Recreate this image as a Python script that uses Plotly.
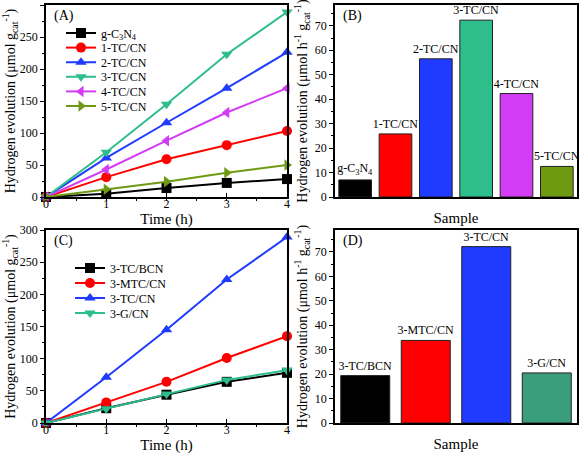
import plotly.graph_objects as go

# ---------------- data ----------------
time_h = [0, 1, 2, 3, 4]

a_names = ["g-C<sub>3</sub>N<sub>4</sub>", "1-TC/CN", "2-TC/CN", "3-TC/CN", "4-TC/CN", "5-TC/CN"]
a_gc3n4 = [0, 5, 14, 22, 28]
a_1tc = [0, 31, 59, 81, 103]
a_2tc = [0, 61, 116, 170, 226]
a_3tc = [0, 70, 145, 223, 289]
a_4tc = [0, 43, 88, 132, 170]
a_5tc = [0, 12, 24, 38, 50]

b_samples = ["g-C<sub>3</sub>N<sub>4</sub>", "1-TC/CN", "2-TC/CN", "3-TC/CN", "4-TC/CN", "5-TC/CN"]
b_rates = [7.0, 25.8, 56.5, 72.3, 42.3, 12.5]

c_names = ["3-TC/BCN", "3-MTC/CN", "3-TC/CN", "3-G/CN"]
c_tcbcn = [0, 23, 44, 64, 78]
c_mtc = [0, 32, 64, 101, 135]
c_tc = [0, 71, 145, 223, 289]
c_g = [0, 22, 45, 67, 82]

d_samples = ["3-TC/BCN", "3-MTC/CN", "3-TC/CN", "3-G/CN"]
d_rates = [19.4, 33.8, 72.2, 20.5]

# ---------------- styles ----------------
FONT = "Liberation Serif"
BLACK = "#000000"
RED = "#FF0000"
BLUE = "#1F3BFF"
GREEN = "#2DBE8C"
MAGENTA = "#D23CF5"
OLIVE = "#6E9A12"
GREEN_D = "#3A9E7C"

a_colors = [BLACK, RED, BLUE, GREEN, MAGENTA, OLIVE]
a_symbols = ["square", "circle", "triangle-up", "triangle-down", "triangle-left", "triangle-right"]
c_colors = [BLACK, RED, BLUE, GREEN]
c_symbols = ["square", "circle", "triangle-up", "triangle-down"]

W, H = 579, 456
fig = go.Figure()

legend_layouts = {}
legfont = dict(family=FONT, size=12, color="black")

# panel A lines, one legend per entry for tight spacing
A_LEG_X, A_LEG_Y0, A_LEG_DY = 61, 33, 14.6
for i, (name, ys, col, sym) in enumerate(zip(a_names, [a_gc3n4, a_1tc, a_2tc, a_3tc, a_4tc, a_5tc], a_colors, a_symbols)):
    lg = "legend" if i == 0 else f"legend{i + 1}"
    fig.add_trace(go.Scatter(x=time_h, y=ys, name=name, mode="lines+markers",
                             line=dict(color=col, width=2),
                             marker=dict(symbol=sym, size=10, color=col),
                             xaxis="x", yaxis="y", legend=lg, cliponaxis=False))
    legend_layouts[lg] = dict(x=A_LEG_X / W, y=1 - (A_LEG_Y0 + i * A_LEG_DY) / H, xanchor="left", yanchor="middle",
                              bgcolor="rgba(0,0,0,0)", font=legfont, itemwidth=30)

fig.add_trace(go.Bar(x=list(range(len(b_samples))), y=b_rates,
                     marker=dict(color=a_colors, line=dict(color="#222", width=1)),
                     text=b_samples, textposition="outside", constraintext="none",
                     textfont=dict(family=FONT, size=12, color="black"),
                     showlegend=False, xaxis="x2", yaxis="y2", cliponaxis=False))

C_LEG_X, C_LEG_Y0, C_LEG_DY = 70, 268, 15
for j, (name, ys, col, sym) in enumerate(zip(c_names, [c_tcbcn, c_mtc, c_tc, c_g], c_colors, c_symbols)):
    lg = f"legend{7 + j}"
    fig.add_trace(go.Scatter(x=time_h, y=ys, name=name, mode="lines+markers",
                             line=dict(color=col, width=2),
                             marker=dict(symbol=sym, size=10, color=col),
                             xaxis="x3", yaxis="y3", legend=lg, cliponaxis=False))
    legend_layouts[lg] = dict(x=C_LEG_X / W, y=1 - (C_LEG_Y0 + j * C_LEG_DY) / H, xanchor="left", yanchor="middle",
                              bgcolor="rgba(0,0,0,0)", font=legfont, itemwidth=30)

fig.add_trace(go.Bar(x=list(range(len(d_samples))), y=d_rates,
                     marker=dict(color=[BLACK, RED, BLUE, GREEN_D], line=dict(color="#222", width=1)),
                     text=d_samples, textposition="outside", constraintext="none",
                     textfont=dict(family=FONT, size=12, color="black"),
                     showlegend=False, xaxis="x4", yaxis="y4", cliponaxis=False))

dxA = [46 / W, 287 / W]
dxB = [335 / W, 577 / W]
dyTop = [1 - 197 / H, 1 - 5 / H]
dyBot = [1 - 423 / H, 1 - 230 / H]

tickfont = dict(family=FONT, size=12, color="black")
titlefont = dict(family=FONT, size=15, color="black")
ytitlefont = dict(family=FONT, size=14, color="black")

def time_axis(dom, anchor):
    return dict(domain=dom, anchor=anchor, range=[0, 4], dtick=1, showline=True, linecolor="black",
                linewidth=1.5, mirror=True, ticks="inside", ticklen=4, tickcolor="black",
                minor=dict(ticks="outside", ticklen=2, dtick=0.5, tickcolor="black"),
                showgrid=False, zeroline=False, tickfont=tickfont, automargin=False, ticklabelstandoff=-5,
                title=dict(text="Time (h)", font=titlefont, standoff=3))

def line_yaxis(dom, anchor):
    return dict(domain=dom, anchor=anchor, range=[0, 300], dtick=50, showline=True, linecolor="black",
                linewidth=1.5, mirror=True, ticks="outside", ticklen=4, tickcolor="black",
                minor=dict(ticks="outside", ticklen=2, dtick=25, tickcolor="black"),
                showgrid=False, zeroline=False, tickfont=tickfont, automargin=False,
                title=dict(text="Hydrogen evolution (μmol g<sub>cat</sub><sup>-1</sup>)", font=ytitlefont, standoff=4))

def bar_xaxis(dom, anchor, n):
    return dict(domain=dom, anchor=anchor, range=[-0.5, n - 0.5], showline=True, linecolor="black",
                linewidth=1.5, mirror=True, ticks="", showticklabels=False, showgrid=False, zeroline=False,
                automargin=False, title=dict(text="Sample", font=titlefont, standoff=15))

def bar_yaxis(dom, anchor, top):
    return dict(domain=dom, anchor=anchor, range=[0, top], dtick=10, showline=True, linecolor="black",
                linewidth=1.5, mirror=True, ticks="outside", ticklen=4, tickcolor="black",
                minor=dict(ticks="outside", ticklen=2, dtick=5, tickcolor="black"),
                showgrid=False, zeroline=False, tickfont=tickfont, automargin=False,
                title=dict(text="Hydrogen evolution (μmol h<sup>-1</sup> g<sub>cat</sub><sup>-1</sup>)", font=ytitlefont, standoff=4))

fig.update_layout(
    template="none",
    width=W, height=H, margin=dict(l=0, r=0, t=0, b=0, pad=0, autoexpand=False),
    paper_bgcolor="white", plot_bgcolor="white",
    font=dict(family=FONT, color="black"),
    bargap=0.19,
    xaxis=time_axis(dxA, "y"), yaxis=line_yaxis(dyTop, "x"),
    xaxis2=bar_xaxis(dxB, "y2", len(b_samples)), yaxis2=bar_yaxis(dyTop, "x2", 78.5),
    xaxis3=time_axis(dxA, "y3"), yaxis3=line_yaxis(dyBot, "x3"),
    xaxis4=bar_xaxis(dxB, "y4", len(d_samples)), yaxis4=bar_yaxis(dyBot, "x4", 79),
    annotations=[
        dict(text="(A)", x=52 / W, y=1 - 16 / H, xref="paper", yref="paper", xanchor="left", yanchor="middle",
             showarrow=False, font=dict(family=FONT, size=14, color="black")),
        dict(text="(B)", x=341 / W, y=1 - 16 / H, xref="paper", yref="paper", xanchor="left", yanchor="middle",
             showarrow=False, font=dict(family=FONT, size=14, color="black")),
        dict(text="(C)", x=52 / W, y=1 - 241 / H, xref="paper", yref="paper", xanchor="left", yanchor="middle",
             showarrow=False, font=dict(family=FONT, size=14, color="black")),
        dict(text="(D)", x=341 / W, y=1 - 241 / H, xref="paper", yref="paper", xanchor="left", yanchor="middle",
             showarrow=False, font=dict(family=FONT, size=14, color="black")),
    ],
)
fig.update_layout(**legend_layouts)

fig.write_html("out.html", config={"displayModeBar": False},
               post_script="document.body.style.margin='0';document.body.style.padding='0';document.body.style.overflow='hidden';")
